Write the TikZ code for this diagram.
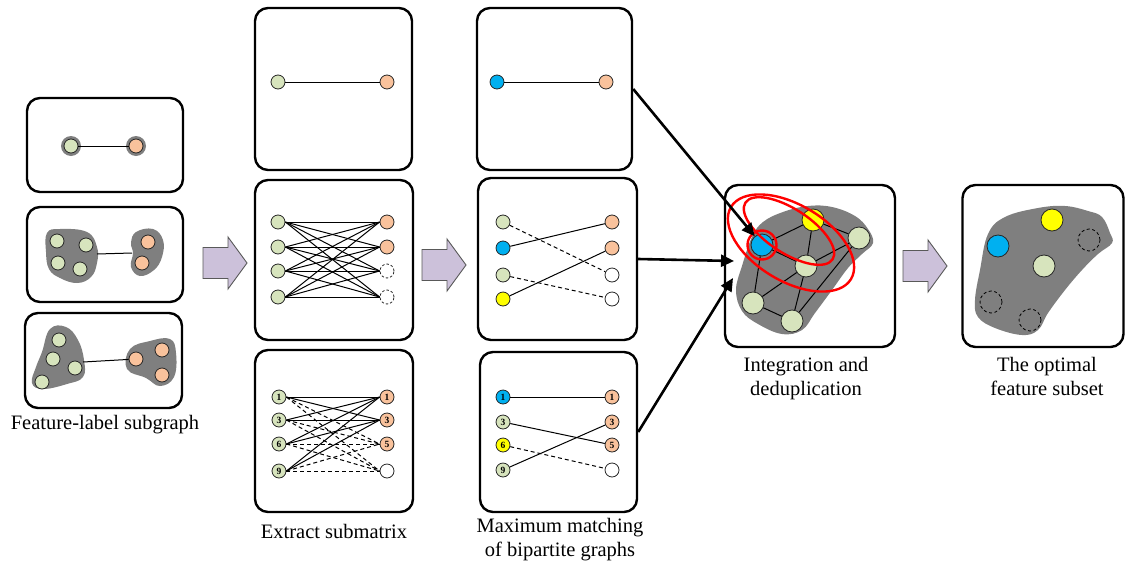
\documentclass[tikz,border=0pt]{standalone}
\usepackage{fontspec}
\setmainfont{Liberation Serif}
\usetikzlibrary{arrows.meta}

\definecolor{ngreen}{HTML}{D7E4BD}
\definecolor{norange}{HTML}{F9C29C}
\definecolor{nblue}{HTML}{00B0F0}
\definecolor{nyellow}{HTML}{FFFF00}
\definecolor{blobgray}{HTML}{7F7F7F}
\definecolor{arrowfill}{HTML}{CCC1DA}
\definecolor{arrowline}{HTML}{595959}

\tikzset{
  panel/.style={draw, line width=2.4pt, rounded corners=13pt, inner sep=0pt},
  nd/.style={circle, draw=black!85, line width=0.8pt, minimum size=14pt, inner sep=0pt,
    font=\fontsize{9.5}{9.5}\selectfont\bfseries},
  gn/.style={nd, fill=ngreen},
  on/.style={nd, fill=norange},
  bn/.style={nd, fill=nblue},
  yn/.style={nd, fill=nyellow},
  wn/.style={nd, fill=white},
  dn/.style={nd, fill=white, dashed, dash pattern=on 2.5pt off 2pt},
  bignd/.style={minimum size=22pt},
  xn/.style={nd, bignd, draw=black, dash pattern=on 3pt off 2.5pt},
  edge/.style={line width=1pt},
  dedge/.style={line width=1pt, dash pattern=on 4pt off 3pt},
  blob/.style={fill=blobgray, draw=none},
  halo/.style={blob, circle, minimum size=20pt, inner sep=0pt},
  bigarrow/.style={line width=2.6pt, -{Triangle[length=13pt, width=12pt]}},
  ring/.style={draw=red, line width=2.4pt},
  caption/.style={align=center, font=\fontsize{20.5}{24}\selectfont},
  blockarrow/.style={fill=arrowfill, draw=arrowline, line width=0.9pt, line join=miter}
}

\begin{document}
\begin{tikzpicture}[x=1pt, y=-1pt]
\useasboundingbox (0,0) rectangle (1126,565);

% ---------- panels ----------
\node[panel, minimum width=156pt, minimum height=94pt] (A1) at (105,145) {};
\node[panel, minimum width=156pt, minimum height=95pt] (A2) at (105,254.5) {};
\node[panel, minimum width=157pt, minimum height=95pt] (A3) at (103.5,360.5) {};
\node[panel, minimum width=157pt, minimum height=162pt] (B1) at (333.5,89) {};
\node[panel, minimum width=158pt, minimum height=160pt] (B2) at (334,260) {};
\node[panel, minimum width=158pt, minimum height=162pt] (B3) at (334,431) {};
\node[panel, minimum width=155pt, minimum height=162pt] (C1) at (554.5,89) {};
\node[panel, minimum width=159pt, minimum height=162pt] (C2) at (557.5,259) {};
\node[panel, minimum width=157pt, minimum height=160pt] (C3) at (558.5,432) {};
\node[panel, minimum width=170pt, minimum height=162pt] (D) at (810,266) {};
\node[panel, minimum width=161pt, minimum height=162pt] (E) at (1043,266) {};

% ---------- block arrows between stages ----------
\newcommand\blockarrowat[2]{%
  \draw[blockarrow] (#1,#2-15.5) -- (#1+25,#2-15.5) -- (#1+25,#2-26) -- (#1+44,#2)
    -- (#1+25,#2+26) -- (#1+25,#2+15.5) -- (#1,#2+15.5) -- cycle;}
\blockarrowat{203}{263}
\blockarrowat{422}{265}
\blockarrowat{903}{266}

% ---------- feature-label subgraphs ----------
\node[halo] at (71,146) {};
\node[halo] at (136,146) {};
\node[gn] (a1g) at (71,146) {};
\node[on] (a1o) at (136,146) {};
\draw[edge] (a1g) -- (a1o);

\fill[blob] plot[smooth cycle, tension=0.7] coordinates
  {(47,233) (60,229) (87,232) (97,247) (97,263) (91,277) (77,283) (60,278) (49,269) (46,252)};
\fill[blob] plot[smooth cycle, tension=0.7] coordinates
  {(136,232) (153,229) (163,240) (162,257) (154,270) (140,276) (131,267) (133,253) (131,243)};
\coordinate (a2l) at (97,254);
\coordinate (a2r) at (132,253);
\draw[edge] (a2l) -- (a2r);
\node[gn] at (57,241) {};
\node[gn] at (86,245) {};
\node[gn] at (58,263) {};
\node[gn] at (80,269) {};
\node[on] at (148,242) {};
\node[on] at (142,263) {};

\fill[blob] plot[smooth cycle, tension=0.7] coordinates
  {(50,329) (66,327) (78,340) (84,360) (83,377) (67,384) (43,389) (32,383) (36,367) (42,352)};
\fill[blob] plot[smooth cycle, tension=0.7] coordinates
  {(130,349) (150,341) (170,339) (176,353) (174,377) (160,386) (146,378) (127,369)};
\node[gn] (a3g1) at (59,340) {};
\node[gn] (a3g2) at (53,359) {};
\node[gn] (a3g3) at (75,368) {};
\node[gn] (a3g4) at (42,382) {};
\node[on] (a3o1) at (136,359) {};
\node[on] (a3o2) at (162,350) {};
\node[on] (a3o3) at (162,375) {};
\coordinate (a3l) at (83,362);
\draw[edge] (a3l) -- (a3o1);

\node[caption] (capA) at (105,425) {Feature-label subgraph};

% ---------- extract submatrix ----------
\node[gn] (b1g) at (278,82) {};
\node[on] (b1o) at (387,82) {};
\draw[edge] (b1g) -- (b1o);

\node[gn] (bl1) at (278,222) {};
\node[gn] (bl2) at (278,247) {};
\node[gn] (bl3) at (278,271) {};
\node[gn] (bl4) at (278,297) {};
\node[on] (br1) at (387,222) {};
\node[on] (br2) at (387,247) {};
\node[dn] (br3) at (387,271) {};
\node[dn] (br4) at (387,297) {};
\foreach \i in {1,...,4}
  \foreach \j in {1,...,4}
    \draw[edge] (bl\i.east) -- (br\j.west);

\node[gn] (cl1) at (279,397) {1};
\node[gn] (cl2) at (279,420) {3};
\node[gn] (cl3) at (279,444) {6};
\node[gn] (cl4) at (279,471) {9};
\node[on] (cr1) at (387,397) {1};
\node[on] (cr2) at (387,420) {3};
\node[on] (cr3) at (387,444) {5};
\node[wn] (cr4) at (387,471) {};
\foreach \i in {1,...,4} {
  \draw[edge] (cl\i.east) -- (cr1.west);
  \draw[edge] (cl\i.east) -- (cr2.west);
  \draw[dedge] (cl\i.east) -- (cr3.west);
  \draw[dedge] (cl\i.east) -- (cr4.west);
}

\node[caption] (capB) at (334,531) {Extract submatrix};

% ---------- maximum matching ----------
\node[bn] (d1b) at (497,82) {};
\node[on] (d1o) at (606,82) {};
\draw[edge] (d1b) -- (d1o);

\node[gn] (dl1) at (503,222) {};
\node[bn] (dl2) at (503,248) {};
\node[gn] (dl3) at (503,275) {};
\node[yn] (dl4) at (503,299) {};
\node[on] (dr1) at (612,222) {};
\node[on] (dr2) at (612,248) {};
\node[wn] (dr3) at (612,275) {};
\node[wn] (dr4) at (612,299) {};
\draw[dedge] (dl1) -- (dr3);
\draw[edge] (dl2) -- (dr1);
\draw[dedge] (dl3) -- (dr4);
\draw[edge] (dl4) -- (dr2);

\node[bn] (el1) at (503,397) {1};
\node[gn] (el2) at (503,422) {3};
\node[yn] (el3) at (503,445) {6};
\node[gn] (el4) at (503,470) {9};
\node[on] (er1) at (612,397) {1};
\node[on] (er2) at (612,422) {3};
\node[on] (er3) at (612,445) {5};
\node[wn] (er4) at (612,470) {};
\draw[edge] (el1) -- (er1);
\draw[edge] (el2) -- (er3);
\draw[edge] (el4) -- (er2);
\draw[dedge] (el3) -- (er4);

\node[caption] (capC) at (560,540) {Maximum matching\\of bipartite graphs};

% ---------- integration and deduplication ----------
\fill[blob] plot[smooth cycle, tension=0.65] coordinates
  {(736,290) (742,266) (752,237) (763,222) (783,212) (808,206) (832,207) (855,216)
   (868,229) (873,243) (862,254) (848,268) (832,290) (815,313) (802,330) (782,334)
   (758,324) (742,311)};
\node[bn, bignd] (fb) at (762,245) {};
\node[yn, bignd] (fy) at (813,220) {};
\node[gn, bignd] (fr) at (859,238) {};
\node[gn, bignd] (fm) at (806,266) {};
\node[gn, bignd] (fl) at (753,303) {};
\node[gn, bignd] (fd) at (792,321) {};
\draw[edge] (fb) -- (fy);
\draw[edge] (fy) -- (fr);
\draw[edge] (fy) -- (fm);
\draw[edge] (fb) -- (fm);
\draw[edge] (fb) -- (fl);
\draw[edge] (fm) -- (fr);
\draw[edge] (fl) -- (fm);
\draw[edge] (fl) -- (fd);
\draw[edge] (fd) -- (fm);
\draw[edge] (fd) -- (fr);

\draw[ring] (fb) circle[radius=14.5pt];
\draw[ring, rotate around={-33:(789,231)}] (789,231) ellipse[x radius=52pt, y radius=22pt];
\draw[ring, rotate around={-31:(791,243)}] (791,243) ellipse[x radius=70pt, y radius=38pt];

\coordinate (t2) at (734,261);
\coordinate (t3) at (733,278);
\draw[bigarrow] (C1.east) -- (fb);
\draw[bigarrow] (C2.east) -- (t2);
\draw[bigarrow] (C3.east) -- (t3);

\node[caption] (capD) at (806,379) {Integration and\\deduplication};

% ---------- optimal feature subset ----------
\fill[blob] plot[smooth cycle, tension=0.65] coordinates
  {(975,300) (980,270) (988,234) (1005,217) (1038,208) (1065,206) (1088,211) (1102,217)
   (1110,233) (1112,243) (1098,254) (1082,270) (1065,290) (1048,313) (1038,330)
   (1022,335) (995,328) (978,317)};
\node[bn, bignd] (gb) at (998,246) {};
\node[yn, bignd] (gy) at (1052,220) {};
\node[gn, bignd] (gm) at (1044,266) {};
\node[xn] (gx1) at (1089,240) {};
\node[xn] (gx2) at (991,302) {};
\node[xn] (gx3) at (1030,320) {};

\node[caption] (capE) at (1047,376) {The optimal\\feature subset};
\end{tikzpicture}
\end{document}
